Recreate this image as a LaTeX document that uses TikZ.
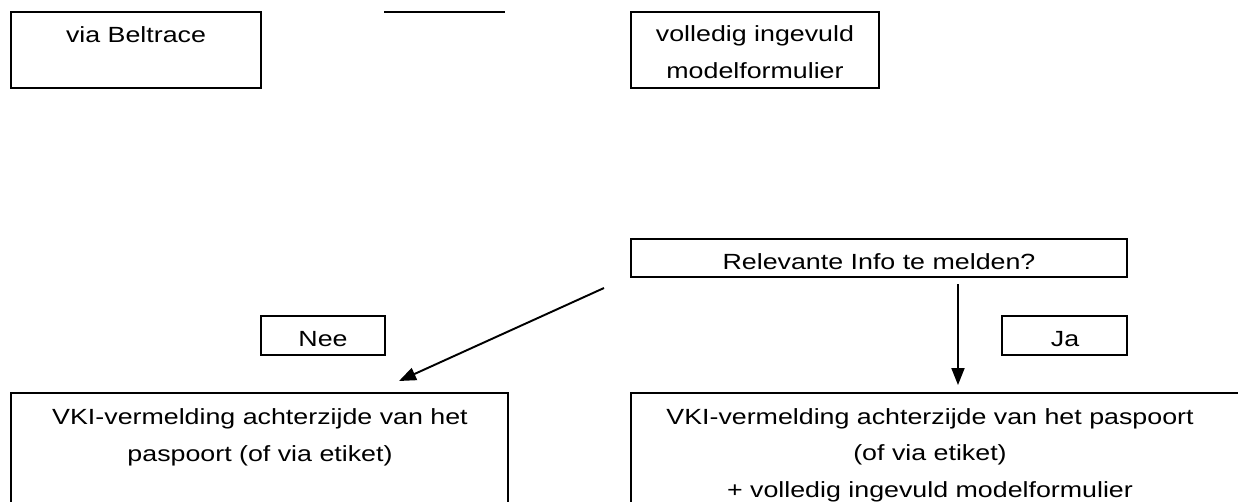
\documentclass[tikz,border=0pt]{standalone}
\usepackage{fontspec}
\setmainfont{Liberation Sans}[FakeStretch=1.22]
\usetikzlibrary{arrows.meta, positioning, fit}

\begin{document}
\begin{tikzpicture}[
                x=0.02cm, y=-0.02cm,
                box/.style={draw, line width=1.1pt, inner sep=0pt},
                txt/.style={anchor=base, align=center, font=\fontsize{12.5}{20.5}\selectfont},
                arrow/.style={-{Triangle[length=0.34cm, width=0.26cm]}, line width=1.1pt},
                bar/.style={line width=1.1pt}
            ]
            \clip (0,0) rectangle (1238,501);

            % Top row (base = last line)
            \node[box, fit={(11,12) (261,88)}] (beltrace) {};
            \node[txt] (beltraceTxt) at (136,42) {via Beltrace};
            \coordinate (barL) at (384,12);
            \coordinate (barR) at (505,12);
            \draw[bar] (barL) -- (barR);
            \node[box, fit={(631,12) (879,88)}] (form) {};
            \node[txt] (formTxt) at (755,78) {volledig ingevuld\\modelformulier};

            % Question
            \node[box, fit={(631,239) (1127,277)}] (vraag) {};
            \node[txt] (vraagTxt) at (879,269) {Relevante Info te melden?};

            % Answers
            \node[box, fit={(261,316) (385,355)}] (nee) {};
            \node[txt] (neeTxt) at (323,346) {Nee};
            \node[box, fit={(1002,316) (1127,355)}] (ja) {};
            \node[txt] (jaTxt) at (1065,346) {Ja};

            % Results
            \node[box, fit={(11,393) (508,530)}] (neeRes) {};
            \node[txt] (neeResTxt) at (260,461) {VKI-vermelding achterzijde van het\\paspoort (of via etiket)};
            \node[box, fit={(631,393) (1260,530)}] (jaRes) {};
            \node[txt] (jaResTxt) at (930,497) {VKI-vermelding achterzijde van het paspoort\\(of via etiket)\\+ volledig ingevuld modelformulier};

            % Arrows
            \coordinate (neeFrom) at (604,288);
            \coordinate (neeTo) at (399,381);
            \draw[arrow] (neeFrom) -- (neeTo);
            \coordinate (jaFrom) at (958,284);
            \coordinate (jaTo) at (958,385);
            \draw[arrow] (jaFrom) -- (jaTo);
\end{tikzpicture}
\end{document}
